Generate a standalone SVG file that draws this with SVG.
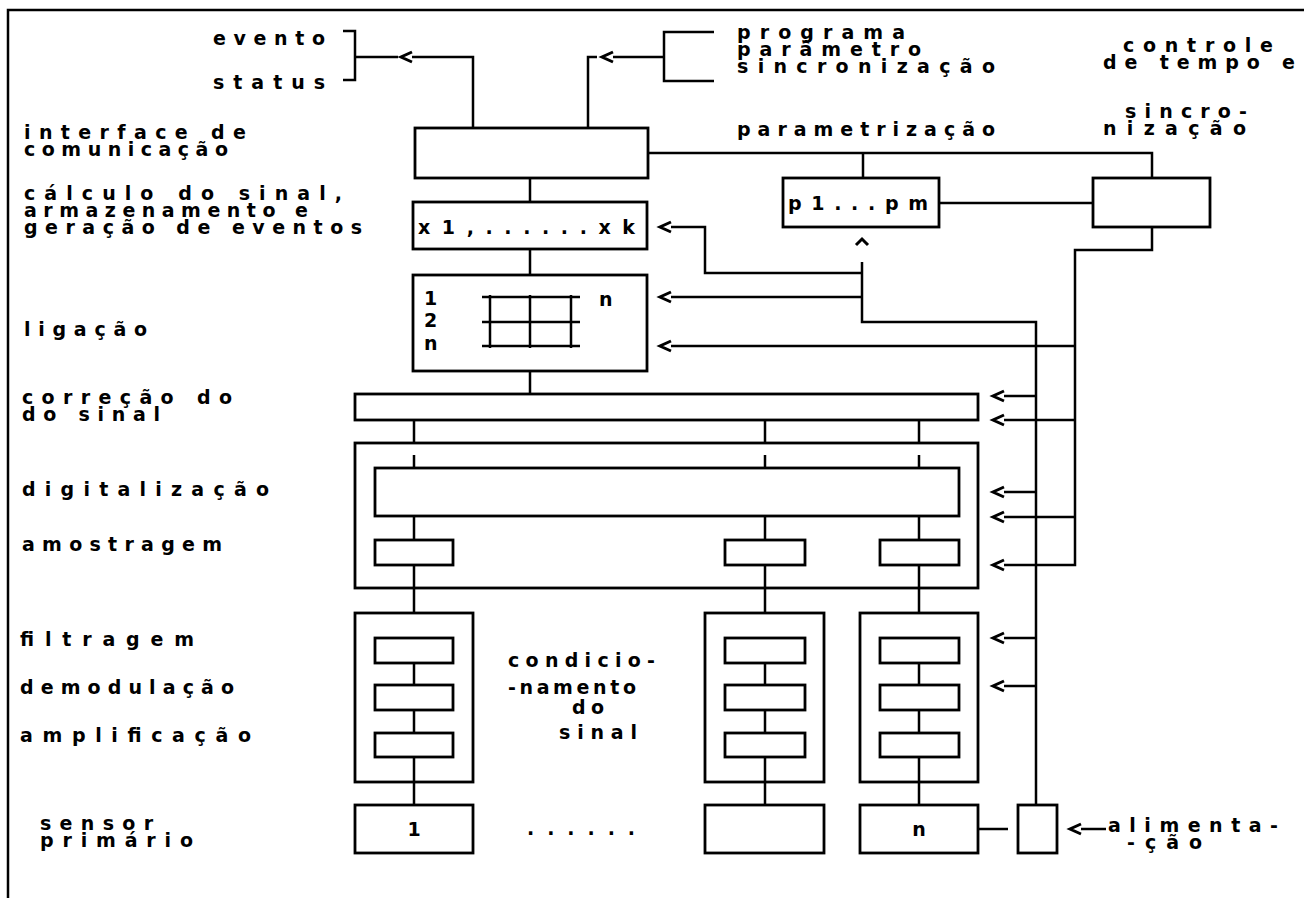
<svg xmlns="http://www.w3.org/2000/svg" xmlns:xlink="http://www.w3.org/1999/xlink" width="1304" height="898" viewBox="0 0 1304 898">
<style>
.bx{fill:none;stroke:#000;stroke-width:2.8}
.ln{fill:none;stroke:#000;stroke-width:2.5}
.ch{fill:none;stroke:#000;stroke-width:3;stroke-linejoin:miter}
.t{font-family:"DejaVu Sans","Liberation Sans",sans-serif;font-weight:bold;font-size:19px;fill:#000}
</style>
<defs>
<path id="chevL" d="M11,-5 L0,0 L11,5"/>
</defs>
<rect width="1304" height="898" fill="#fff"/>
<g id="frame">
<path class="ln" d="M8,898 V10 H1304"/>
</g>
<g id="connectors">
<path class="ln" d="M343,31 H355 V80 H343 M355,57 H398"/>
<path class="ln" d="M412,57 H473 V128"/>
<use class="ch" href="#chevL" x="401" y="57"/>
<path class="ln" d="M714,32 H664 V81 H714 M664,57 H613"/>
<path class="ln" d="M597,57 H588 V128"/>
<use class="ch" href="#chevL" x="602" y="57"/>
<path class="ln" d="M648,153 H1152 V178 M863,153 V178"/>
<path class="ln" d="M939,203 H1093"/>
<path class="ln" d="M530,178 V202 M530,249 V275 M530,371 V394"/>
<path class="ln" d="M671,227 H705 V273 H862"/>
<use class="ch" href="#chevL" x="660" y="227"/>
<path class="ln" d="M671,297 H862"/>
<use class="ch" href="#chevL" x="660" y="297"/>
<path class="ch" d="M856,245 L862,239 L868,245"/>
<path class="ln" d="M862,262 V322 H1036 V805"/>
<path class="ln" d="M1004,396 H1036 M1004,492 H1036 M1004,638 H1036 M1004,686 H1036"/>
<use class="ch" href="#chevL" x="993" y="396"/>
<use class="ch" href="#chevL" x="993" y="492"/>
<use class="ch" href="#chevL" x="993" y="638"/>
<use class="ch" href="#chevL" x="993" y="686"/>
<path class="ln" d="M671,346 H1075"/>
<use class="ch" href="#chevL" x="660" y="346"/>
<path class="ln" d="M1152,227 V250 H1075 V565 H1004"/>
<path class="ln" d="M1004,420 H1075 M1004,517 H1075"/>
<use class="ch" href="#chevL" x="993" y="420"/>
<use class="ch" href="#chevL" x="993" y="517"/>
<use class="ch" href="#chevL" x="993" y="565"/>
<path class="ln" d="M414,420 V443 M414,455 V468 M414,516 V540 M414,565 V588 M414,588 V613 M414,663 V685 M414,710 V733 M414,757 V782 M414,782 V805"/>
<path class="ln" d="M765,420 V443 M765,455 V468 M765,516 V540 M765,565 V588 M765,588 V613 M765,663 V685 M765,710 V733 M765,757 V782 M765,782 V805"/>
<path class="ln" d="M919,420 V443 M919,455 V468 M919,516 V540 M919,565 V588 M919,588 V613 M919,663 V685 M919,710 V733 M919,757 V782 M919,782 V805"/>
<path class="ln" d="M978,829 H1008"/>
<path class="ln" d="M1081,829 H1106"/>
<use class="ch" href="#chevL" x="1070" y="829"/>
</g>
<g id="interface"><rect class="bx" x="415" y="128" width="233" height="50"/></g>
<g id="calculo"><rect class="bx" x="413" y="202" width="234" height="47"/>
<text class="t" x="418" y="234" textLength="217" lengthAdjust="spacing">x1,......xk</text></g>
<g id="parametros"><rect class="bx" x="783" y="178" width="156" height="49"/>
<text class="t" x="788" y="210" textLength="140" lengthAdjust="spacing">p1...pm</text></g>
<g id="controle"><rect class="bx" x="1093" y="178" width="117" height="49"/></g>
<g id="ligacao"><rect class="bx" x="413" y="275" width="234" height="96"/>
<path class="ln" d="M482,297 H580 M482,322 H580 M482,346 H580 M490,295 V348 M530,295 V348 M571,295 V348"/>
<text class="t" x="424" y="305">1</text>
<text class="t" x="424" y="327">2</text>
<text class="t" x="424" y="350">n</text>
<text class="t" x="599" y="306">n</text></g>
<g id="correcao"><rect class="bx" x="355" y="394" width="623" height="26"/></g>
<g id="digitalizacao"><rect class="bx" x="355" y="443" width="623" height="145"/>
<rect class="bx" x="375" y="468" width="584" height="48"/>
<rect class="bx" x="375" y="540" width="78" height="25"/>
<rect class="bx" x="725" y="540" width="80" height="25"/>
<rect class="bx" x="880" y="540" width="79" height="25"/></g>
<g id="cond1"><rect class="bx" x="355" y="613" width="118" height="169"/>
<rect class="bx" x="375" y="638" width="78" height="25"/>
<rect class="bx" x="375" y="685" width="78" height="25"/>
<rect class="bx" x="375" y="733" width="78" height="24"/></g>
<g id="cond2"><rect class="bx" x="705" y="613" width="119" height="169"/>
<rect class="bx" x="725" y="638" width="80" height="25"/>
<rect class="bx" x="725" y="685" width="80" height="25"/>
<rect class="bx" x="725" y="733" width="80" height="24"/></g>
<g id="condn"><rect class="bx" x="860" y="613" width="118" height="169"/>
<rect class="bx" x="880" y="638" width="79" height="25"/>
<rect class="bx" x="880" y="685" width="79" height="25"/>
<rect class="bx" x="880" y="733" width="79" height="24"/></g>
<g id="sensor1"><rect class="bx" x="355" y="805" width="118" height="48"/>
<text class="t" x="414" y="836" text-anchor="middle">1</text></g>
<g id="sensor2"><rect class="bx" x="705" y="805" width="119" height="48"/></g>
<g id="sensorn"><rect class="bx" x="860" y="805" width="118" height="48"/>
<text class="t" x="919" y="836" text-anchor="middle">n</text></g>
<g id="alimentacao"><rect class="bx" x="1018" y="805" width="39" height="48"/></g>
<g id="labels">
<text class="t" x="213" y="45" textLength="112" lengthAdjust="spacing">evento</text>
<text class="t" x="213" y="89" textLength="112" lengthAdjust="spacing">status</text>
<text class="t" x="737" y="39" textLength="168" lengthAdjust="spacing">programa</text>
<text class="t" x="737" y="56" textLength="184" lengthAdjust="spacing">parâmetro</text>
<text class="t" x="737" y="73" textLength="258" lengthAdjust="spacing">sincronização</text>
<text class="t" x="1123" y="52" textLength="150" lengthAdjust="spacing">controle</text>
<text class="t" x="1103" y="69" textLength="192" lengthAdjust="spacing">de tempo e</text>
<text class="t" x="1125" y="118" textLength="122" lengthAdjust="spacing">sincro-</text>
<text class="t" x="1103" y="135" textLength="143" lengthAdjust="spacing">nização</text>
<text class="t" x="737" y="136" textLength="258" lengthAdjust="spacing">parametrização</text>
<text class="t" x="24" y="139" textLength="222" lengthAdjust="spacing">interface de</text>
<text class="t" x="24" y="156" textLength="204" lengthAdjust="spacing">comunicação</text>
<text class="t" x="24" y="200" textLength="318" lengthAdjust="spacing">cálculo do sinal,</text>
<text class="t" x="24" y="217" textLength="284" lengthAdjust="spacing">armazenamento e</text>
<text class="t" x="24" y="234" textLength="338" lengthAdjust="spacing">geração de eventos</text>
<text class="t" x="24" y="336" textLength="123" lengthAdjust="spacing">ligação</text>
<text class="t" x="22" y="404" textLength="210" lengthAdjust="spacing">correção do</text>
<text class="t" x="22" y="421" textLength="138" lengthAdjust="spacing">do sinal</text>
<text class="t" x="22" y="496" textLength="247" lengthAdjust="spacing">digitalização</text>
<text class="t" x="22" y="551" textLength="200" lengthAdjust="spacing">amostragem</text>
<text class="t" x="20" y="646" textLength="174" lengthAdjust="spacing">filtragem</text>
<text class="t" x="20" y="694" textLength="214" lengthAdjust="spacing">demodulação</text>
<text class="t" x="20" y="742" textLength="231" lengthAdjust="spacing">amplificação</text>
<text class="t" x="40" y="830" textLength="113" lengthAdjust="spacing">sensor</text>
<text class="t" x="40" y="847" textLength="153" lengthAdjust="spacing">primário</text>
<text class="t" x="508" y="667" textLength="147" lengthAdjust="spacing">condicio-</text>
<text class="t" x="508" y="694" textLength="128" lengthAdjust="spacing">-namento</text>
<text class="t" x="572" y="714" textLength="32" lengthAdjust="spacing">do</text>
<text class="t" x="559" y="739" textLength="78" lengthAdjust="spacing">sinal</text>
<text class="t" x="527" y="835" textLength="108" lengthAdjust="spacing">......</text>
<text class="t" x="1108" y="832" textLength="170" lengthAdjust="spacing">alimenta-</text>
<text class="t" x="1127" y="849" textLength="75" lengthAdjust="spacing">-ção</text>
</g>
</svg>
